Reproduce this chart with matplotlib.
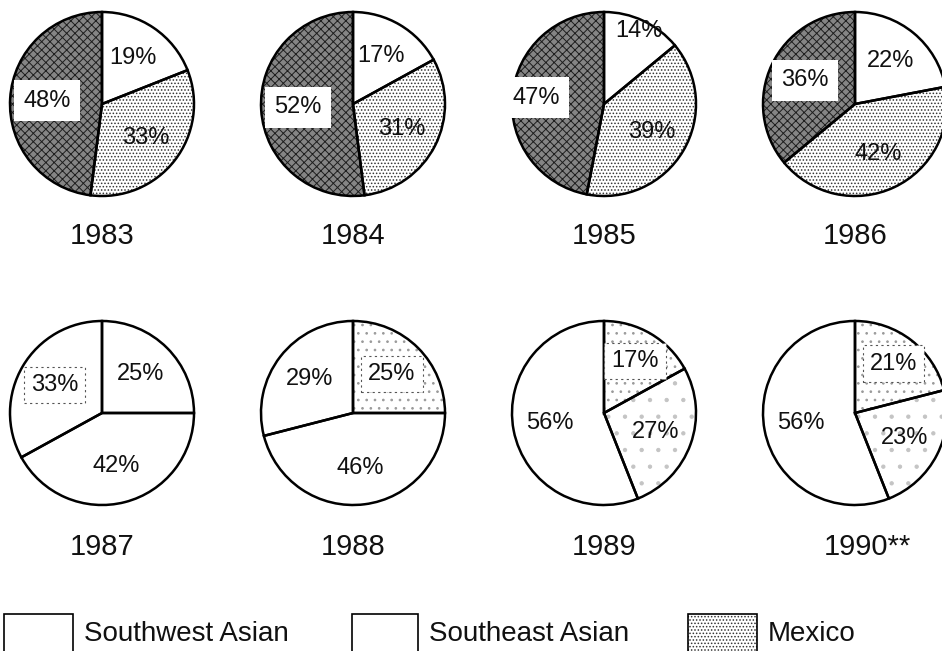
import numpy as np
import matplotlib
matplotlib.use('Agg')
import matplotlib.pyplot as plt
from matplotlib.patches import Rectangle

plt.rcParams['font.family'] = ['Liberation Sans', 'DejaVu Sans']
plt.rcParams['hatch.linewidth'] = 0.7

W, H = 942, 651

YEARS = ['1983', '1984', '1985', '1986', '1987', '1988', '1989', '1990**']
# shares of each pie, clockwise from twelve o'clock
FIRST_SLICE = [19, 17, 14, 22, 25, 25, 17, 21]
SECOND_SLICE = [33, 31, 39, 42, 42, 46, 27, 23]
THIRD_SLICE = [48, 52, 47, 36, 33, 29, 56, 56]
LEGEND_LABELS = ['Southwest Asian', 'Southeast Asian', 'Mexico']

FILLS = {
    'plain': dict(facecolor='white', edgecolor='white', hatch=None),
    'dots':  dict(facecolor='white', edgecolor='#333333', hatch='.....'),
    'dark':  dict(facecolor='#858585', edgecolor='#1e1e1e', hatch='xxxx'),
    'speck': dict(facecolor='white', edgecolor='#9a9a9a', hatch='..'),
    'faint': dict(facecolor='white', edgecolor='#c4c4c4', hatch='.'),
}
PIE_FILLS = [('plain', 'dots', 'dark')] * 4 + [
    ('plain', 'plain', 'plain'),
    ('speck', 'plain', 'plain'),
    ('speck', 'faint', 'plain'),
    ('speck', 'faint', 'plain'),
]
BOXED = [2, 2, 2, 2, 2, 0, 0, 0]
# label distances (fraction of radius) that differ from the default
LABEL_DIST = {(2, 0): 0.88, (2, 2): 0.74, (6, 0): 0.66, (7, 0): 0.68}
LEGEND_FILLS = ['plain', 'plain', 'dots']

# layout in pixels, measured from the top edge
COL_X = [102, 353, 604, 855]
ROW_Y = [104, 413]
YEAR_Y = [236, 547]
RADIUS = 92


def up(y):
    return H - y


fig = plt.figure(figsize=(W / 100, H / 100), dpi=100)
fig.patch.set_facecolor('white')
ax = fig.add_axes([0, 0, 1, 1])

solid_box = dict(boxstyle='square,pad=0.4', fc='white', ec='none')
dashed_box = dict(boxstyle='square,pad=0.3', fc='white', ec='#555555',
                  lw=0.8, ls=(0, (2, 3)))

for i, year in enumerate(YEARS):
    cx = COL_X[i % 4]
    cy = up(ROW_Y[i // 4])
    vals = [FIRST_SLICE[i], SECOND_SLICE[i], THIRD_SLICE[i]]

    wedges, _ = ax.pie(vals, center=(cx, cy), radius=RADIUS, startangle=90,
                       counterclock=False, frame=True,
                       wedgeprops=dict(linewidth=0))
    for w, name in zip(wedges, PIE_FILLS[i]):
        f = FILLS[name]
        w.set_facecolor(f['facecolor'])
        w.set_edgecolor(f['edgecolor'])
        w.set_hatch(f['hatch'])

    # outlines on top of the textures
    ax.pie(vals, center=(cx, cy), radius=RADIUS, startangle=90,
           counterclock=False, frame=True,
           wedgeprops=dict(fill=False, edgecolor='black', linewidth=1.8))

    for k, (w, v) in enumerate(zip(wedges, vals)):
        mid = np.deg2rad((w.theta1 + w.theta2) / 2)
        d = LABEL_DIST.get((i, k), 0.6) * RADIUS
        bbox = None
        if k == BOXED[i]:
            bbox = solid_box if i < 4 else dashed_box
        ax.text(cx + d * np.cos(mid), cy + d * np.sin(mid), f'{v}%',
                ha='center', va='center', fontsize=17, color='#111111',
                bbox=bbox, zorder=5)

    dx = 12 if year.endswith('*') else 0
    ax.text(cx + dx, up(YEAR_Y[i // 4]), year, ha='center', va='center',
            fontsize=21, color='#111111')

# legend along the bottom edge
box_x = [4, 352, 688]
box_w = [69, 66, 69]
for bx, bw, name, label in zip(box_x, box_w, LEGEND_FILLS, LEGEND_LABELS):
    f = FILLS[name]
    ax.add_patch(Rectangle((bx, up(614) - 50), bw, 50, facecolor=f['facecolor'],
                           edgecolor=f['edgecolor'], hatch=f['hatch'],
                           linewidth=0))
    ax.add_patch(Rectangle((bx, up(614) - 50), bw, 50, fill=False,
                           edgecolor='black', linewidth=1.2))
    ax.text(bx + bw + 11, up(634), label, ha='left', va='center',
            fontsize=20, color='#111111')

ax.set_xlim(0, W)
ax.set_ylim(0, H)
ax.set_aspect('equal')
ax.axis('off')

fig.savefig('out.png', dpi=100, facecolor='white')
